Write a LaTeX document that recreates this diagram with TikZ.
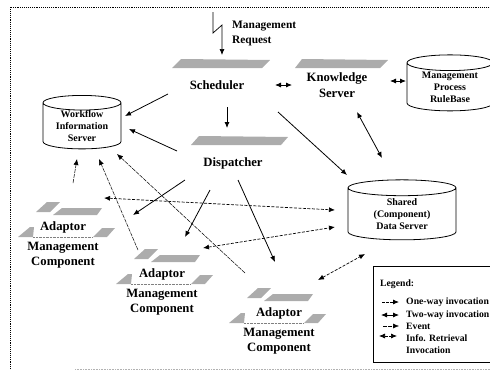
\documentclass[tikz,border=0pt]{standalone}
\usepackage{fontspec}
\setmainfont{Liberation Serif}
\usetikzlibrary{shapes.geometric,arrows.meta}
\tikzset{
	label10/.style={font=\fontsize{10}{12}\selectfont\bfseries,align=center,inner sep=0pt},
	legendtext/.style={font=\fontsize{9.7}{12}\selectfont\bfseries,align=left,inner sep=0pt,anchor=west},
	label13/.style={font=\fontsize{12.7}{15.5}\selectfont\bfseries,align=center,inner sep=0pt},
	store/.style={cylinder,draw,shape border rotate=90,aspect=0.28,inner sep=0pt,line width=0.8pt,label10},
	bar/.style={fill=gray!65,draw=none},
	oneway/.style={->,line width=0.8pt},
	twoway/.style={<->,line width=0.8pt},
	eventline/.style={->,line width=0.5pt,dash pattern=on 4pt off 1pt},
	retrieval/.style={<->,line width=0.7pt,dash pattern=on 3pt off 1.5pt}
}
\begin{document}
\begin{tikzpicture}[x=1pt,y=-1pt,>={Latex[length=6pt,width=5pt]}]
	\useasboundingbox (0,0) rectangle (490,370);
	\clip (0,0) rectangle (490,370);

	%frame
	\draw[densely dotted,line width=0.9pt] (10,369) -- (10,7) -- (490,7);
	\draw[densely dotted,gray!60,line width=0.6pt] (75,369) -- (490,369);

	%stores
	\node[store,minimum width=78pt,minimum height=48pt] (wfs) at (82,126) {Workflow\\Information\\Server};
	\node[store,minimum width=86pt,minimum height=56pt] (rule) at (450,87) {Management\\Process\\RuleBase};
	\node[store,minimum width=108pt,minimum height=60pt] (shared) at (402,214) {Shared\\(Component)\\Data Server};

	%bars
	\fill[bar] (172,68) -- (181,59) -- (270,60) -- (262,68) -- cycle; %scheduler
	\fill[bar] (191,145) -- (199,136) -- (288,137) -- (281,145) -- cycle; %dispatcher
	\fill[bar] (295,68) -- (302,59) -- (388,60) -- (380,68) -- cycle; %knowledge

	%servers
	\node[label13] (sched) at (217,85) {Scheduler};
	\node[label13] (disp) at (233,163) {Dispatcher};
	\node[label13] (know) at (337,85) {Knowledge\\Server};
	\node[font=\fontsize{11.4}{15}\selectfont\bfseries,align=left,inner sep=0pt,anchor=west] (req) at (232,33) {Management\\Request};

	%adaptors
	\foreach \name/\barx/\bary/\textx in {A/0/0/0,B/98/47/99,C/211/86/216}{
		\begin{scope}[shift={(\barx,\bary)}]
			\fill[bar] (36,212) -- (47,202) -- (60,202) -- (50,212) -- cycle;
			\fill[bar] (53,215) -- (62,208) -- (102,208) -- (97,215) -- cycle;
			\fill[bar] (18,237) -- (30,227) -- (34,227) -- (33,237) -- cycle;
			\fill[bar] (93,237) -- (102,228) -- (115,228) -- (107,237) -- cycle;
			\draw[densely dotted,gray] (33,237) -- (93,237);
		\end{scope}
		\node[label13] (adaptor\name) at (63+\textx,227+\bary) {Adaptor};
		\node[label13] (comp\name) at (63+\textx,255+\bary) {Management\\Component};
	}

	%request
	\coordinate (reqtop) at (213,12);
	\draw[->,line width=0.7pt] (reqtop) -- ++(0,21) -- ++(9,-8) -- ([shift={(5,-30)}]sched.center);

	%invocations
	\draw[oneway] ([shift={(-49,9)}]sched.center) -- ([shift={(43,-10)}]wfs.center);
	\draw[oneway] ([shift={(-56,-12)}]disp.center) -- ([shift={(47,3)}]wfs.center);
	\draw[oneway] ([shift={(10,22)}]sched.center) -- ([shift={(-6,-35)}]disp.center);
	\draw[oneway] ([shift={(61,27)}]sched.center) -- ([shift={(-55,-39)}]shared.center);
	\draw[twoway] ([shift={(20,27)}]know.center) -- ([shift={(-20,-56)}]shared.center);
	\draw[twoway] ([shift={(58,0)}]sched.center) -- ([shift={(-45,0)}]know.center);
	\draw[twoway] ([shift={(53,-4)}]know.center) -- ([shift={(-44,-6)}]rule.center);
	\draw[oneway] ([shift={(-48,17)}]disp.center) -- ([shift={(70,-12)}]adaptorA.center);
	\draw[oneway] ([shift={(-23,27)}]disp.center) -- ([shift={(23,-37)}]adaptorB.center);
	\draw[oneway] ([shift={(5,17)}]disp.center) -- ([shift={(-4,-51)}]adaptorC.center);

	%events
	\draw[eventline] ([shift={(10,-44)}]adaptorA.center) -- ([shift={(-5,33)}]wfs.center);
	\draw[eventline] ([shift={(-24,-24)}]adaptorB.center) -- ([shift={(17,33)}]wfs.center);
	\draw[eventline] ([shift={(-34,-40)}]adaptorC.center) -- ([shift={(35,28)}]wfs.center);

	%retrievals
	\draw[retrieval] ([shift={(41,-29)}]adaptorA.center) -- ([shift={(-67,-4)}]shared.center);
	\draw[retrieval] ([shift={(41,-26)}]adaptorB.center) -- ([shift={(-67,13)}]shared.center);
	\draw[retrieval] ([shift={(39,-33)}]adaptorC.center) -- ([shift={(-37,40)}]shared.center);

	%legend
	\node[draw,line width=1pt,minimum width=122pt,minimum height=96pt] (legend) at (434,314) {};
	\node[legendtext] (legtitle) at (380,284) {Legend:};
	\node[legendtext] (legone) at (406,302) {One-way invocation};
	\node[legendtext] (legtwo) at (406,315) {Two-way invocation};
	\node[legendtext] (legevent) at (406,326) {Event};
	\node[legendtext] (leginfo) at (406,344) {Info. Retrieval\\Invocation};
	\draw[oneway,dash pattern=on 3pt off 1pt] ([xshift=-24pt]legone.west) -- ([xshift=-7pt]legone.west);
	\draw[twoway] ([xshift=-25pt]legtwo.west) -- ([xshift=-7pt]legtwo.west);
	\draw[eventline] ([xshift=-23pt]legevent.west) -- ([xshift=-7pt]legevent.west);
	\draw[retrieval] ([shift={(-27,-8)}]leginfo.west) -- ([shift={(-9,-8)}]leginfo.west);
\end{tikzpicture}
\end{document}
